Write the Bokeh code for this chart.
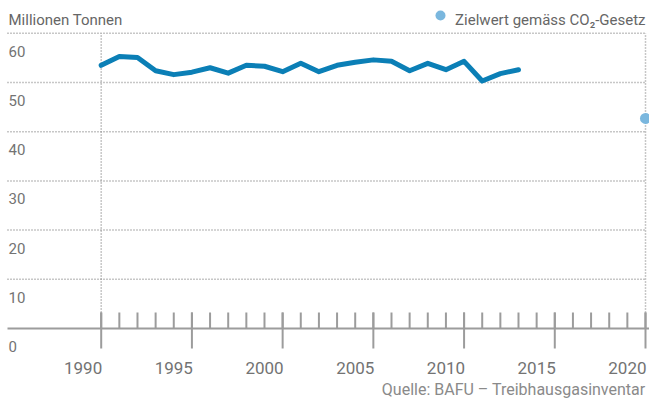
from bokeh.plotting import figure
from bokeh.models import Range1d
from bokeh.core.properties import value
from bokeh.embed import file_html
from bokeh.resources import INLINE

# ---- data ----
years = list(range(1990, 2014))
emissions = [53.5, 55.3, 55.1, 52.4, 51.6, 52.1, 53.0, 51.9, 53.5, 53.3,
             52.2, 53.9, 52.2, 53.5, 54.1, 54.6, 54.3, 52.4, 53.9, 52.6,
             54.3, 50.3, 51.8, 52.6]
target_year = [2020]
target_value = [42.7]
y_ticks = [0, 10, 20, 30, 40, 50, 60]
y_tick_labels = ["0", "10", "20", "30", "40", "50", "60"]
x_major = [1990, 1995, 2000, 2005, 2010, 2015, 2020]
x_major_labels = ["1990", "1995", "2000", "2005", "2010", "2015", "2020"]
x_minor = list(range(1990, 2021))
title_text = "Millionen Tonnen"
legend_text = "Zielwert gemäss CO₂-Gesetz"
source_text = "Quelle: BAFU – Treibhausgasinventar"

# ---- layout ----
W, H = 649, 403
ppy = (645 - 100.7) / 30.0      # pixels per year
X0 = 1990 - 100.7 / ppy
X1 = X0 + W / ppy
ppu = 4.92                      # pixels per unit
Y1 = 328 / ppu
Y0 = Y1 - H / ppu

FONT = value("Roboto")
GRAY = "#737373"
AXIS = "#9c9c9c"
LINE = "#0b7fb6"
DOT = "#7ab7de"
GRID = "#8f8f8f"

p = figure(width=W, height=H, x_range=Range1d(X0, X1), y_range=Range1d(Y0, Y1),
           output_backend="svg", toolbar_location=None, min_border=0,
           x_axis_location=None, y_axis_location=None, outline_line_color=None,
           background_fill_color="white", border_fill_color="white")
p.grid.grid_line_color = None

tick_up = 16 / ppu
tick_down = 20 / ppu

# horizontal dotted grid
grid_vals = [v for v in y_ticks if v > 0]
p.segment(x0=[X0 + 7 / ppy] * len(grid_vals), y0=grid_vals, x1=[2020] * len(grid_vals), y1=grid_vals,
          line_color=GRID, line_width=1.5, line_dash="1 2")
# vertical dotted lines at first/last year
p.segment(x0=[1990, 2020], y0=[tick_up] * 2, x1=[1990, 2020], y1=[max(y_ticks)] * 2,
          line_color=GRID, line_width=1.5, line_dash="1 2")
# baseline
p.segment(x0=[X0 + 7 / ppy], y0=[0], x1=[X1], y1=[0], line_color=AXIS, line_width=2)
# ticks
p.segment(x0=x_minor, y0=[0] * len(x_minor), x1=x_minor, y1=[tick_up] * len(x_minor),
          line_color=AXIS, line_width=2)
p.segment(x0=x_major, y0=[-tick_down] * len(x_major), x1=x_major, y1=[tick_up] * len(x_major),
          line_color=AXIS, line_width=2)

# data
p.line(years, emissions, line_width=5, line_color=LINE, line_join="round", line_cap="round")
p.scatter(target_year, target_value, size=11, fill_color=DOT, line_color=None)

# y labels
p.text(x=[X0 + 8 / ppy] * len(y_ticks), y=y_ticks, text=y_tick_labels, text_font=FONT,
       text_font_size="15px", text_color=GRAY, text_baseline="alphabetic",
       text_align="left", y_offset=18)
# x labels
p.text(x=x_major, y=[0] * len(x_major), text=x_major_labels, text_font=FONT,
       text_font_size="17px", text_color=GRAY, text_baseline="alphabetic",
       text_align="right", y_offset=39, x_offset=1)

# title
p.text(x=[X0 + 8 / ppy], y=[Y1], text=[title_text], text_font=FONT, text_font_size="15px",
       text_color="#666666", text_baseline="alphabetic", text_align="left",
       y_offset=19)
# legend
p.text(x=[X0 + 645 / ppy], y=[Y1], text=[legend_text], text_font=FONT,
       text_font_size="15px", text_color="#666666", text_baseline="alphabetic",
       text_align="right", y_offset=19)
p.scatter(x=[X0 + 440 / ppy], y=[Y1 - 15 / ppu], size=10, fill_color=DOT, line_color=None)
# source
p.text(x=[X0 + 645 / ppy], y=[Y0], text=[source_text], text_font=FONT,
       text_font_size="16px", text_color="#8a8a8a", text_baseline="alphabetic",
       text_align="right", y_offset=-14)

open("out.html", "w").write(file_html(p, INLINE))
